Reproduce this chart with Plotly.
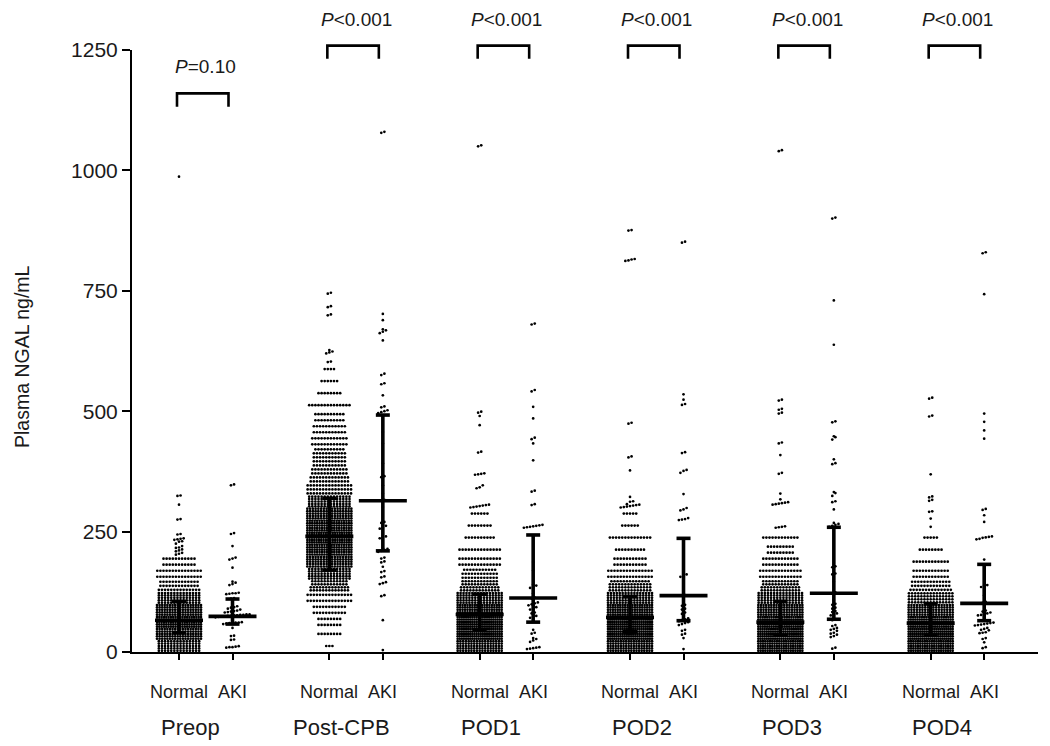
import math
import plotly.graph_objects as go

groups = ["Preop", "Post-CPB", "POD1", "POD2", "POD3", "POD4"]
p_labels = ["=0.10", "&lt;0.001", "&lt;0.001", "&lt;0.001", "&lt;0.001", "&lt;0.001"]
bin_width = 25  # ng/mL, for the dense "Normal" groups

# Normal groups: counts per 25 ng/mL bin from 0 upwards, then the sparse high values
preop_normal_bins = [70, 90, 100, 90, 70, 40, 30, 22]
preop_normal_high = [202, 204, 206, 209, 211, 213, 216, 217, 220, 225, 229, 230, 233, 234, 235, 236,
                     244, 245, 275, 276, 306, 324, 325, 987]
postcpb_normal_bins = [3, 8, 16, 22, 30, 50, 70, 85, 95, 100, 95, 85, 70, 45, 38, 34, 32, 24, 22, 20,
                       14, 8, 6, 4]
postcpb_normal_high = [602, 603, 620, 622, 624, 627, 699, 701, 716, 718, 744, 746]
pod1_normal_bins = [85, 110, 110, 95, 80, 50, 35, 28, 14, 10, 8, 6]
pod1_normal_high = [300, 301, 302, 303, 304, 305, 306, 340, 342, 346, 368, 369, 370, 371, 414, 416,
                    471, 490, 497, 499, 1050, 1052]
pod2_normal_bins = [90, 110, 110, 95, 80, 55, 30, 22, 10, 14, 6, 5]
pod2_normal_high = [300, 301, 302, 303, 304, 305, 306, 307, 312, 313, 322, 377, 404, 406, 474, 476,
                    812, 813, 815, 816, 875, 876]
pod3_normal_bins = [100, 110, 105, 90, 75, 50, 28, 24, 18, 12]
pod3_normal_high = [258, 259, 260, 261, 306, 307, 308, 309, 310, 311, 317, 329, 370, 372, 409, 433,
                    435, 495, 497, 503, 505, 522, 524, 1040, 1042]
pod4_normal_bins = [100, 115, 105, 85, 60, 40, 24, 12, 8, 5]
pod4_normal_high = [260, 277, 291, 292, 314, 316, 321, 323, 369, 489, 491, 526, 528]

# AKI groups: individual values
preop_aki = [348, 346, 247, 245, 220, 196, 194, 192, 175, 146, 144, 141, 139, 123, 122, 122, 121, 120,
             112, 111, 95, 93, 92, 90, 88, 86, 85, 84, 83, 82, 78, 78, 77, 77, 76, 76, 75, 75, 74, 74,
             73, 72, 62, 61, 61, 60, 60, 59, 58, 50, 34, 33, 26, 25, 12, 11, 10, 10, 9]
postcpb_aki = [1080, 1078, 702, 689, 670, 668, 665, 662, 647, 578, 575, 558, 556, 533, 510, 508, 502,
               500, 498, 496, 457, 433, 392, 365, 363, 346, 329, 316, 314, 301, 270, 268, 262, 258,
               256, 240, 238, 236, 216, 214, 212, 210, 208, 196, 194, 188, 186, 177, 168, 166, 157,
               155, 145, 143, 141, 118, 116, 66, 4]
pod1_aki = [682, 680, 544, 541, 509, 485, 445, 442, 433, 398, 335, 333, 307, 305, 264, 263, 262, 261,
            260, 259, 258, 187, 169, 140, 138, 135, 133, 122, 113, 111, 103, 101, 99, 97, 93, 91, 88,
            82, 80, 75, 73, 71, 46, 40, 38, 29, 27, 24, 21, 10, 9, 8, 7, 6]
pod2_aki = [852, 850, 535, 524, 515, 513, 415, 413, 378, 376, 372, 328, 299, 296, 294, 278, 276, 275,
            274, 236, 198, 161, 158, 156, 132, 118, 117, 104, 98, 96, 90, 88, 82, 79, 70, 68, 66, 64,
            62, 60, 58, 56, 46, 44, 38, 36, 29, 6]
pod3_aki = [902, 900, 730, 638, 479, 477, 448, 446, 441, 400, 392, 390, 332, 330, 324, 313, 311, 296,
            268, 266, 264, 262, 260, 178, 176, 163, 161, 146, 124, 122, 108, 100, 98, 92, 90, 85, 83,
            80, 78, 76, 68, 66, 56, 54, 50, 48, 46, 44, 40, 38, 36, 33, 31, 9, 7]
pod4_aki = [830, 828, 743, 495, 478, 460, 443, 297, 295, 284, 270, 240, 239, 238, 237, 235, 234, 192,
            139, 138, 135, 118, 104, 102, 86, 84, 82, 80, 78, 77, 76, 61, 60, 59, 58, 57, 56, 55, 50,
            48, 46, 45, 41, 40, 39, 29, 27, 20, 10, 8]

# median and interquartile range
normal_median = [66, 240, 78, 72, 62, 60]
normal_q1 = [40, 170, 46, 42, 35, 35]
normal_q3 = [105, 319, 120, 115, 105, 100]
aki_median = [74, 314, 112, 117, 122, 101]
aki_q1 = [58, 210, 62, 65, 68, 65]
aki_q3 = [110, 492, 243, 236, 259, 182]

normal_bins = [preop_normal_bins, postcpb_normal_bins, pod1_normal_bins, pod2_normal_bins,
               pod3_normal_bins, pod4_normal_bins]
normal_high = [preop_normal_high, postcpb_normal_high, pod1_normal_high, pod2_normal_high,
               pod3_normal_high, pod4_normal_high]
aki_values = [preop_aki, postcpb_aki, pod1_aki, pod2_aki, pod3_aki, pod4_aki]

# x layout: Normal at gap*i, AKI one unit to the right (1 unit ~ 53.5 px)
gap = 2.81
xmin, xmax = -0.8785, 16.056
PX = (xmax - xmin) / 906.0
STEP = 3.1 * PX
MAXSPAN = 44 * PX


def row_offsets(m):
    s = STEP if m < 2 else min(STEP, MAXSPAN / (m - 1))
    return [(j - (m - 1) / 2) * s for j in range(m)]


def swarm_values(values, center, tol=6.0):
    xs, ys = [], []
    rows = []
    for v in sorted(values):
        if rows and v - rows[-1][0] <= tol:
            rows[-1].append(v)
        else:
            rows.append([v])
    for row in rows:
        for off, v in zip(row_offsets(len(row)), row):
            xs.append(center + off)
            ys.append(v)
    return xs, ys


def swarm_bins(counts, center):
    xs, ys = [], []
    for i, n in enumerate(counts):
        if n == 0:
            continue
        r = min(5, math.ceil(n / 15))
        base, extra = divmod(n, r)
        for k in range(r):
            m = base + (1 if k < extra else 0)
            y = (i + (k + 0.5) / r) * bin_width
            for off in row_offsets(m):
                xs.append(center + off)
                ys.append(y)
    return xs, ys


fig = go.Figure()

dot_x, dot_y = [], []
for i in range(6):
    xn = gap * i
    xa = gap * i + 1
    bx, by = swarm_bins(normal_bins[i], xn)
    hx, hy = swarm_values(normal_high[i], xn)
    ax, ay = swarm_values(aki_values[i], xa)
    dot_x += bx + hx + ax
    dot_y += by + hy + ay

fig.add_trace(go.Scatter(
    x=dot_x, y=dot_y, mode="markers", cliponaxis=False, hoverinfo="skip",
    marker=dict(size=2.7, color="black", line=dict(width=0)),
))

# median bars with IQR whiskers
MED_HALF = 24 * PX
CAP_HALF = 7 * PX
ex, ey = [], []
for i in range(6):
    for x, med, q1, q3 in [(gap * i, normal_median[i], normal_q1[i], normal_q3[i]),
                           (gap * i + 1, aki_median[i], aki_q1[i], aki_q3[i])]:
        ex += [x - MED_HALF, x + MED_HALF, None, x, x, None,
               x - CAP_HALF, x + CAP_HALF, None, x - CAP_HALF, x + CAP_HALF, None]
        ey += [med, med, None, q1, q3, None, q1, q1, None, q3, q3, None]
fig.add_trace(go.Scatter(x=ex, y=ey, mode="lines", hoverinfo="skip",
                         line=dict(color="black", width=3.6)))

font = "Liberation Sans, Arial, Helvetica, sans-serif"
txt = "#1a1a1a"


def to_paper(x):
    return (x - xmin) / (xmax - xmin)


shapes = []
annotations = []
for i, g in enumerate(groups):
    xn = gap * i
    xa = gap * i + 1
    if i == 0:
        top, leg, ptxt = 1160 / 1250, 1132 / 1250, 0.972
    else:
        top, leg, ptxt = 1259 / 1250, 1232 / 1250, 1.05
    x0 = to_paper(xn - 2 * PX)
    x1 = to_paper(xa - 4 * PX)
    shapes.append(dict(type="path", xref="paper", yref="paper",
                       path=f"M {x0},{leg} L {x0},{top} L {x1},{top} L {x1},{leg}",
                       line=dict(color="black", width=2.6)))
    annotations.append(dict(xref="paper", yref="paper", x=to_paper(xn + 0.5), y=ptxt,
                            xanchor="center", yanchor="middle",
                            text="<i>P</i>" + p_labels[i], showarrow=False,
                            font=dict(size=19, color=txt, family=font)))
    annotations.append(dict(xref="x", yref="paper", x=xn, y=-0.066, text="Normal",
                            xanchor="center", yanchor="middle",
                            showarrow=False, font=dict(size=18, color=txt, family=font)))
    annotations.append(dict(xref="x", yref="paper", x=xa, y=-0.066, text="AKI",
                            xanchor="center", yanchor="middle",
                            showarrow=False, font=dict(size=18, color=txt, family=font)))
    annotations.append(dict(xref="x", yref="paper", x=xn + 0.5 - 15 * PX, y=-0.1246, text=g,
                            xanchor="center", yanchor="middle",
                            showarrow=False, font=dict(size=22, color=txt, family=font)))

annotations.append(dict(xref="paper", yref="paper", x=-0.1214, y=0.49, text="Plasma NGAL ng/mL",
                        xanchor="center", yanchor="middle",
                        textangle=-90, showarrow=False,
                        font=dict(size=19.5, color=txt, family=font)))

tick_pos = []
for i in range(6):
    tick_pos += [gap * i, gap * i + 1]

# the page body adds an 8 px margin, so the figure is 8 px smaller and shifted back
fig.update_layout(
    width=1042, height=738,
    margin=dict(l=124, r=12, t=42, b=94),
    paper_bgcolor="white", plot_bgcolor="white",
    showlegend=False,
    shapes=shapes, annotations=annotations,
    font=dict(family=font, color=txt),
    xaxis=dict(range=[xmin, xmax], showgrid=False, zeroline=False, showline=True,
               linecolor="black", linewidth=2, ticks="outside", ticklen=6, tickwidth=2,
               tickcolor="black", tickvals=tick_pos, showticklabels=False),
    yaxis=dict(range=[0, 1250], showgrid=False, zeroline=False, showline=True,
               linecolor="black", linewidth=2, ticks="outside", ticklen=8, tickwidth=2,
               tickcolor="black", tickvals=[0, 250, 500, 750, 1000, 1250],
               tickfont=dict(size=21, color=txt, family=font)),
)

fig.write_html("out.html")
